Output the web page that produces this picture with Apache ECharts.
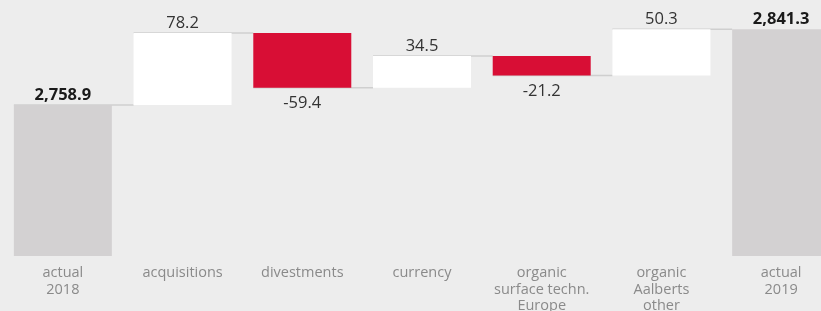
<!DOCTYPE html>
<html>
<head>
<meta charset="utf-8">
<script src="https://cdn.jsdelivr.net/npm/echarts@6/dist/echarts.min.js"></script>
<style>
    html, body { margin: 0; padding: 0; background: #ededed; }
    #chart { width: 821px; height: 311px; }
</style>
</head>
<body>
<div id="chart"></div>
<script>
// categories and changes (first and last are totals)
var categories = ['actual\n2018', 'acquisitions', 'divestments', 'currency', 'organic\nsurface techn.\nEurope', 'organic\nAalberts\nother', 'actual\n2019'];
var values = [2758.9, 78.2, -59.4, 34.5, -21.2, 50.3, 2841.3];
var isTotal = [true, false, false, false, false, false, true];

(function () {
    var myChart = echarts.init(document.getElementById('chart'));

    // build invisible base + visible part for the waterfall
    var base = [], shown = [], levels = [];
    var running = 0;
    for (var i = 0; i < values.length; i++) {
        var v = values[i];
        if (isTotal[i]) {
            base.push(0);
            shown.push({ value: v, itemStyle: { color: '#d3d1d2' } });
            running = v;
        } else {
            var end = running + v;
            base.push(Math.min(running, end));
            shown.push({
                value: Math.abs(v),
                itemStyle: { color: v < 0 ? '#d80e35' : '#ffffff' },
                label: v < 0 ? { position: 'bottom', distance: 7 } : { position: 'top' }
            });
            running = end;
        }
        levels.push(running);
    }

    function fmt(i) {
        var v = values[i];
        if (isTotal[i]) {
            return v.toLocaleString('en-US', { minimumFractionDigits: 1, maximumFractionDigits: 1 });
        }
        return v.toFixed(1);
    }

    // connector lines between neighbouring bars
    var links = [];
    for (var j = 0; j < values.length - 1; j++) {
        links.push([j, levels[j]]);
    }

    var option = {
        backgroundColor: '#ededed',
        animation: false,
        grid: { left: 3, top: 0, width: 838, height: 256, outerBoundsMode: 'none', containLabel: false },
        xAxis: {
            type: 'category',
            data: categories,
            axisLine: { show: false },
            axisTick: { show: false },
            axisLabel: {
                color: '#8a8a8a',
                fontFamily: 'Open Sans',
                fontSize: 14.5,
                lineHeight: 16.5,
                margin: 9,
                interval: 0
            }
        },
        yAxis: {
            type: 'value',
            min: 2595,
            max: 2873,
            show: false,
            splitLine: { show: false }
        },
        series: [
            {
                type: 'custom',
                z: 1,
                data: links,
                renderItem: function (params, api) {
                    var idx = api.value(0);
                    var p0 = api.coord([idx, api.value(1)]);
                    var p1 = api.coord([idx + 1, api.value(1)]);
                    var half = 49;
                    return {
                        type: 'line',
                        shape: { x1: p0[0] - half, y1: p0[1], x2: p1[0] - half, y2: p1[1] },
                        style: { stroke: '#cfcfcf', lineWidth: 1.5 }
                    };
                }
            },
            {
                type: 'bar',
                stack: 'wf',
                z: 2,
                barWidth: 98,
                itemStyle: { color: 'transparent' },
                data: base
            },
            {
                type: 'bar',
                stack: 'wf',
                z: 2,
                barWidth: 98,
                data: shown,
                label: {
                    show: true,
                    position: 'top',
                    distance: 1,
                    fontFamily: 'Open Sans',
                    fontSize: 16.5,
                    color: '#333333',
                    formatter: function (p) {
                        if (isTotal[p.dataIndex]) {
                            return '{b|' + fmt(p.dataIndex) + '}';
                        }
                        return fmt(p.dataIndex);
                    },
                    rich: {
                        b: { fontFamily: 'Open Sans', fontSize: 16.5, fontWeight: 'bold', color: '#1a1a1a' }
                    }
                }
            }
        ]
    };

    myChart.setOption(option);
})();
</script>
</body>
</html>
